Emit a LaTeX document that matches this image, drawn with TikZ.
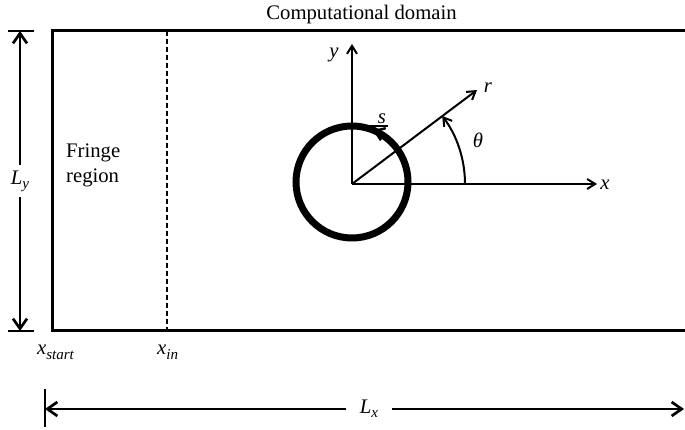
\documentclass[tikz,border=0pt]{standalone}
\usepackage{fontspec}
\setmainfont{Liberation Serif}
\usepackage{tikz}
\usetikzlibrary{arrows.meta,positioning}
\newcommand{\subtxt}[1]{\raisebox{-0.2em}{\fontsize{15}{15}\selectfont\textit{#1}}}

\begin{document}
\begin{tikzpicture}[
  x=1pt, y=1pt,
  font=\fontsize{20.7}{25}\selectfont,
  wall/.style = {line width=3pt},
  cut/.style = {line width=1.6pt, dash pattern=on 5pt off 3pt},
  tick/.style = {line width=2.6pt},
  dim/.style = {line width=2.7pt, {Straight Barb[length=10pt,width=14pt]}-{Straight Barb[length=10pt,width=14pt]}},
  axis/.style = {line width=2pt, -{Straight Barb[length=8pt,width=10pt]}},
  lbl/.style = {inner sep=0pt, font=\fontsize{20.7}{25}\selectfont\itshape},
  gap/.style = {fill=white, inner xsep=14pt, inner ysep=6pt, font=\fontsize{20.7}{25}\selectfont\itshape}
]
\useasboundingbox (0,0) rectangle (685,430);

\coordinate (tl) at (52,399);
\coordinate (bl) at (52,99);
\coordinate (tr) at (685,399);
\coordinate (br) at (685,99);
\coordinate (intop) at (167,399);
\coordinate (inbot) at (167,99);
\draw[wall] (tr) -- (tl) -- (bl) -- (br);
\draw[cut] (intop) -- (inbot);

\coordinate (lytop) at (20,399);
\coordinate (lybot) at (20,99);
\draw[tick] (8,399) -- (34,399);
\draw[tick] (8,99) -- (34,99);
\draw[dim] (lytop) -- node[gap] (ly) {L\subtxt{y}} (lybot);

\coordinate (lxleft) at (45,21);
\coordinate (lxright) at (684,21);
\draw[tick] (45,3) -- (45,41);
\draw[dim] (lxleft) -- node[gap, pos=0.507] (lx) {L\subtxt{x}} (lxright);

\node[anchor=base] (title) at (361.5,410.5) {Computational domain};
\node[align=left, anchor=north west, inner sep=0pt] (fringe) at (66,286) {Fringe\\region};
\node[lbl, anchor=base west] (xs) at (37,75) {x\subtxt{start}};
\node[lbl, anchor=base west] (xi) at (157,75) {x\subtxt{in}};

\node[circle, draw, line width=7pt, minimum size=112pt, inner sep=0pt, outer sep=0pt] (cyl) at (352,248) {};
\coordinate (O) at (352,246);
\coordinate (ytip) at (352,386);
\coordinate (xtip) at (597,246);
\coordinate (rtip) at (477,340);
\draw[axis] (O) -- (ytip);
\draw[axis] (O) -- (xtip);
\draw[axis] (O) -- (rtip);
\draw[axis] ([shift={(113,0)}]O) arc[start angle=0, end angle=37, radius=113];
\draw[tick] (cyl.north) -- ++(36,0);
\draw[line width=2.5pt, -{Straight Barb[length=9pt,width=13pt]}] (cyl.45) arc[start angle=45, end angle=68, radius=56];

\node[lbl] (ylab) at (334,375) {y};
\node[lbl] (xlab) at (605,245) {x};
\node[lbl] (rlab) at (488,342) {r};
\node[lbl] (tlab) at (478,290) {θ};
\node[lbl] (slab) at (382,311) {s};
\end{tikzpicture}
\end{document}
